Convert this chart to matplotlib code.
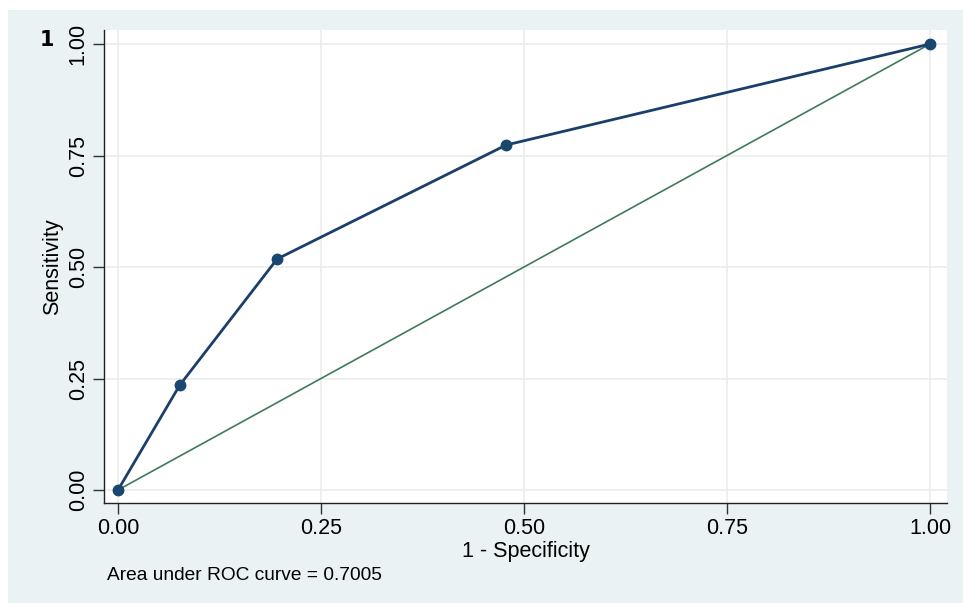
import matplotlib.pyplot as plt
from matplotlib.patches import Rectangle

fpr = [0.0, 0.076, 0.196, 0.478, 1.0]
tpr = [0.0, 0.235, 0.518, 0.7735, 1.0]
ref = [0.0, 1.0]
ticks = [0.0, 0.25, 0.5, 0.75, 1.0]
tick_labels = ['0.00', '0.25', '0.50', '0.75', '1.00']
auc_text = 'Area under ROC curve = 0.7005'

W, H = 963, 603
fig = plt.figure(figsize=(W / 100, H / 100), dpi=100, facecolor='white')

# stata-like light blue graph region
fig.patches.append(Rectangle((8 / W, 0), 1 - 8 / W, 1 - 10 / H,
                             transform=fig.transFigure, facecolor='#eaf2f3',
                             edgecolor='none', zorder=-5))

ax = fig.add_axes([104 / W, 1 - 503 / H, (947 - 104) / W, (503 - 30) / H])
ax.set_facecolor('white')

x_lo = -14 / 812
x_hi = 829 / 812
y_hi = 460 / 446
y_lo = -13 / 446
ax.set_xlim(x_lo, x_hi)
ax.set_ylim(y_lo, y_hi)

ax.set_xticks(ticks)
ax.set_xticklabels(tick_labels, fontsize=15.5, family='Liberation Sans')
ax.set_yticks(ticks)
ax.set_yticklabels(tick_labels, fontsize=15.5, family='Liberation Sans',
                   rotation=90, va='center')
ax.tick_params(length=8, width=1, color='#333333', pad=3)

ax.grid(True, color='#ebeded', linewidth=1.2)
ax.set_axisbelow(True)
for s in ['top', 'right']:
    ax.spines[s].set_visible(False)
for s in ['left', 'bottom']:
    ax.spines[s].set_color('#222222')
    ax.spines[s].set_linewidth(1)

ax.plot(ref, ref, color='#3f7a5a', linewidth=1.2, zorder=3)
ax.plot(fpr, tpr, color='#1a3f6b', linewidth=2, marker='o',
        markersize=7.5, markerfacecolor='#1a476f', markeredgecolor='#1a476f',
        zorder=4)

ax.set_xlabel('1 - Specificity', fontsize=15.5, family='Liberation Sans',
              labelpad=1)
ax.set_ylabel('Sensitivity', fontsize=15.5, family='Liberation Sans',
              labelpad=3)

fig.text(107 / W, 1 - 575 / H, auc_text, fontsize=13.8, family='Liberation Sans',
         va='center', ha='left')
fig.text(47 / W, 1 - 40 / H, '1', fontsize=15, fontweight='bold',
         family='DejaVu Sans', va='center', ha='center')

fig.savefig('out.png', dpi=100, facecolor='white')
